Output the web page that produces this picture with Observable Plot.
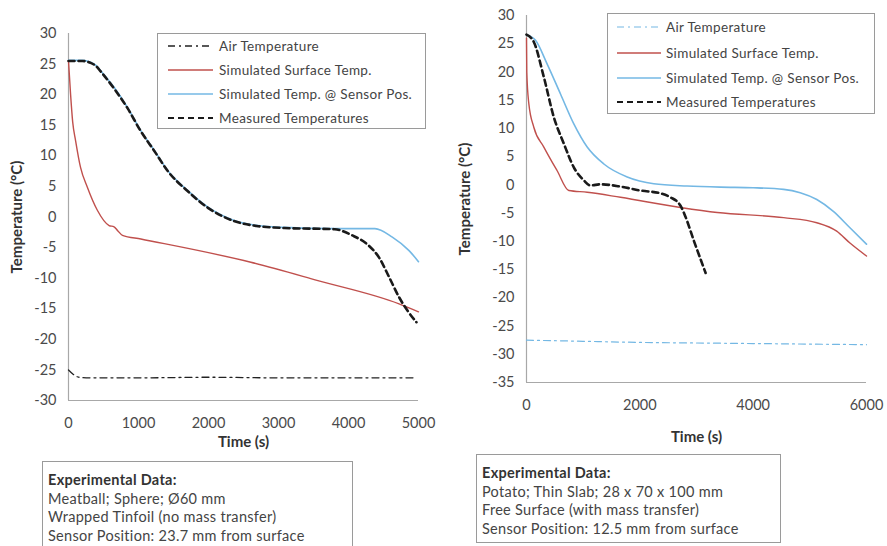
<!DOCTYPE html>
<html>
<head>
<meta charset="utf-8">
<script src="https://cdn.jsdelivr.net/npm/d3@7"></script>
<script src="https://cdn.jsdelivr.net/npm/@observablehq/plot@0.6"></script>
<style>
  html, body { margin: 0; padding: 0; background: #fff; }
  body { width: 887px; height: 546px; position: relative; overflow: hidden; font-family: Lato, "Open Sans", sans-serif; color: #333; }
  .panel { position: absolute; top: 0; }
  .legend { position: absolute; border: 1px solid #9a9a9a; background: #fff; font-size: 13.5px; letter-spacing: 0.35px; color: #444; }
  .li { position: absolute; white-space: nowrap; line-height: 14px; height: 14px; }
  .li svg { position: absolute; top: 2px; }
  .li span { position: absolute; }
  .note { position: absolute; border: 1px solid #9a9a9a; font-size: 14.5px; letter-spacing: 0.3px; line-height: 18.5px; color: #444; padding: 9px 5px; box-sizing: border-box; background: rgba(255,255,255,0.6); white-space: nowrap; }
  .note b { color: #333; }
</style>
</head>
<body>
<div id="left" class="panel" style="left:0px"></div>
<div id="right" class="panel" style="left:450px"></div>
<div id="legL" class="legend" style="left:157px; top:33px; width:267px; height:94px;"></div>
<div id="legR" class="legend" style="left:607px; top:13px; width:266px; height:99px;"></div>
<div class="note" style="left:42px; top:461px; width:311px; height:95px;"><b>Experimental Data:</b><br>Meatball; Sphere; Ø60 mm<br>Wrapped Tinfoil (no mass transfer)<br>Sensor Position: 23.7 mm from surface</div>
<div class="note" style="left:476px; top:454px; width:305px; height:89px;"><b>Experimental Data:</b><br>Potato; Thin Slab; 28 x 70 x 100 mm<br>Free Surface (with mass transfer)<br>Sensor Position: 12.5 mm from surface</div>
<script>
// ---------- data ----------
const seriesNames = ["Air Temperature", "Simulated Surface Temp.", "Simulated Temp. @ Sensor Pos.", "Measured Temperatures"];

// Left panel: Meatball
const leftAirTime = [0, 150, 300, 1000, 2000, 3000, 4000, 4950];
const leftAirTemp = [-25, -26.2, -26.3, -26.3, -26.2, -26.3, -26.3, -26.3];
const leftSurfTime = [0, 30, 60, 101, 172, 268, 412, 580, 651, 700, 771, 1034, 2605, 3563, 4722, 5000];
const leftSurfTemp = [25.5, 20, 15.5, 12.5, 8.1, 4.9, 1.1, -1.4, -1.6, -2.2, -3.0, -3.6, -7.4, -10.4, -14.2, -15.5];
const leftSensTime = [0, 200, 316, 400, 460, 651, 843, 1034, 1226, 1418, 1705, 1992, 2375, 2710, 3084, 3803, 4378, 4626, 4865, 5000];
const leftSensTemp = [25.6, 25.6, 25.3, 24.7, 23.9, 21.2, 17.9, 14.1, 10.9, 7.6, 4.3, 1.6, -0.6, -1.4, -1.7, -1.9, -1.9, -3.3, -5.5, -7.3];
const leftMeasTime = [0, 200, 316, 400, 460, 651, 843, 1034, 1226, 1418, 1705, 1992, 2375, 2710, 3084, 3803, 4052, 4291, 4435, 4579, 4722, 4842, 4971];
const leftMeasTemp = [25.5, 25.5, 25.2, 24.6, 23.8, 21.0, 17.8, 14.0, 10.8, 7.5, 4.2, 1.5, -0.7, -1.5, -1.8, -2.0, -3.0, -4.7, -6.6, -9.8, -13.1, -15.3, -17.2];

// Right panel: Potato
const rightAirTime = [0, 1000, 2000, 3000, 4000, 5000, 6000];
const rightAirTemp = [-27.5, -27.7, -27.9, -28.0, -28.1, -28.2, -28.3];
const rightSurfTime = [0, 5, 41, 129, 306, 541, 747, 1071, 1659, 2718, 3366, 4537, 5123, 5474, 5708, 6000];
const rightSurfTemp = [26, 20, 14.4, 10.2, 6.7, 2.5, -1.0, -1.3, -2.2, -4.0, -4.9, -5.8, -6.7, -8.2, -10.3, -12.6];
const rightSensTime = [0, 159, 365, 600, 835, 1071, 1365, 1777, 2247, 2835, 3424, 4000, 4537, 4830, 5123, 5415, 5708, 6000];
const rightSensTemp = [26.6, 25.6, 21.4, 16.1, 10.8, 6.7, 3.7, 1.4, 0.2, -0.2, -0.4, -0.5, -0.8, -1.4, -2.6, -4.7, -7.6, -10.5];
const rightMeasTime = [0, 129, 306, 482, 659, 835, 1012, 1129, 1306, 1659, 2012, 2365, 2541, 2718, 2800, 2957, 3161];
const rightMeasTemp = [26.6, 25.3, 19.1, 12, 7.3, 3.1, 0.8, -0.1, 0.1, -0.3, -1.0, -1.5, -2.2, -3.7, -5.5, -10, -15.6];

// Tick labels
const leftXTicks = [0, 1000, 2000, 3000, 4000, 5000];
const leftYTicks = [-30, -25, -20, -15, -10, -5, 0, 5, 10, 15, 20, 25, 30];
const rightXTicks = [0, 2000, 4000, 6000];
const rightYTicks = [-35, -30, -25, -20, -15, -10, -5, 0, 5, 10, 15, 20, 25, 30];
const xLabel = "Time (s)";
const yLabel = "Temperature (°C)";

// ---------- styles ----------
const RED = "#c0504d", BLUE = "#74b8e4";
const styles = {
  leftAir:  {stroke: "#222", strokeWidth: 1.3, strokeDasharray: "7,4,2,4"},
  rightAir: {stroke: BLUE, strokeWidth: 1.2, strokeDasharray: "7,4,2,4"},
  surf:     {stroke: RED, strokeWidth: 1.4},
  sens:     {stroke: BLUE, strokeWidth: 1.6},
  meas:     {stroke: "#1a1a1a", strokeWidth: 2.6, strokeDasharray: "6,4"}
};

const zip = (ts, vs) => ts.map((t, i) => ({t, v: vs[i]}));

function panel({xDomain, yDomain, xTicks, yTicks, width, height, mt, mb, ml, mr, air, airStyle, surf, sens, meas, yLabelDx, xLabelDy}) {
  const line = (data, st) => Plot.line(data, {x: "t", y: "v", curve: "monotone-x", ...st});
  return Plot.plot({
    width, height, marginTop: mt, marginBottom: mb, marginLeft: ml, marginRight: mr,
    style: {fontFamily: "Lato, 'Open Sans', sans-serif", fontSize: "14.5px", color: "#4a4a4a", background: "transparent", overflow: "visible"},
    x: {type: "linear", domain: xDomain, ticks: xTicks, tickFormat: d => String(d), tickSize: 0, tickPadding: 17, label: null},
    y: {type: "linear", domain: yDomain, ticks: yTicks, tickFormat: d => String(d), tickSize: 0, tickPadding: 12, label: null},
    marks: [
      Plot.ruleX([xDomain[0]], {stroke: "#a8a8a8", strokeWidth: 1.2}),
      Plot.ruleY([yDomain[0]], {stroke: "#a8a8a8", strokeWidth: 1.2}),
      line(air, airStyle),
      line(surf, styles.surf),
      line(sens, styles.sens),
      line(meas, styles.meas),
      Plot.text([yLabel], {frameAnchor: "left", rotate: -90, textAnchor: "middle", lineAnchor: "middle", dx: yLabelDx, text: d => d, fontWeight: "bold", fontSize: 15, fill: "#333"}),
      Plot.text([xLabel], {frameAnchor: "bottom", textAnchor: "middle", lineAnchor: "middle", dy: xLabelDy, text: d => d, fontWeight: "bold", fontSize: 15, fill: "#333"})
    ]
  });
}

document.getElementById("left").append(panel({
  xDomain: [0, 5000], yDomain: [-30, 30], xTicks: leftXTicks, yTicks: leftYTicks,
  width: 440, height: 450, mt: 33, mb: 50, ml: 68, mr: 22,
  air: zip(leftAirTime, leftAirTemp), airStyle: styles.leftAir,
  surf: zip(leftSurfTime, leftSurfTemp), sens: zip(leftSensTime, leftSensTemp), meas: zip(leftMeasTime, leftMeasTemp),
  yLabelDx: -51, xLabelDy: 42
}));
document.getElementById("right").append(panel({
  xDomain: [0, 6000], yDomain: [-35, 30], xTicks: rightXTicks, yTicks: rightYTicks,
  width: 437, height: 450, mt: 15, mb: 68, ml: 76, mr: 21,
  air: zip(rightAirTime, rightAirTemp), airStyle: styles.rightAir,
  surf: zip(rightSurfTime, rightSurfTemp), sens: zip(rightSensTime, rightSensTemp), meas: zip(rightMeasTime, rightMeasTemp),
  yLabelDx: -61, xLabelDy: 55
}));

// ---------- legends ----------
function legend(el, airStyle, rows, sx, sw, tx) {
  const sts = [airStyle, styles.surf, styles.sens, styles.meas];
  seriesNames.forEach((name, i) => {
    const d = document.createElement("div");
    d.className = "li";
    d.style.top = (rows[i] - 7) + "px";
    d.style.left = "0px";
    const st = sts[i];
    d.innerHTML = `<svg width="${sw}" height="10" style="left:${sx}px"><line x1="0" x2="${sw}" y1="5" y2="5" stroke="${st.stroke}" stroke-width="${Math.min(st.strokeWidth, 2.2)}" ${st.strokeDasharray ? `stroke-dasharray="${st.strokeDasharray}"` : ""}/></svg><span style="left:${tx}px">${name}</span>`;
    el.append(d);
  });
}
legend(document.getElementById("legL"), styles.leftAir, [12, 36, 60, 84], 10, 45, 61);
legend(document.getElementById("legR"), styles.rightAir, [13, 39, 64, 88], 9, 44, 58);
</script>
</body>
</html>
